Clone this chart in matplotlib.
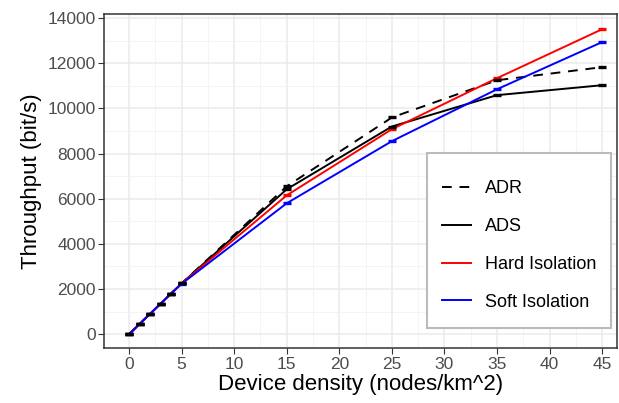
import numpy as np
import matplotlib.pyplot as plt
from matplotlib.patches import Rectangle
from matplotlib.ticker import MultipleLocator

density = [0, 1, 2, 3, 4, 5, 15, 25, 35, 45]
adr = [0, 450, 900, 1350, 1800, 2250, 6550, 9600, 11250, 11830]
ads = [0, 450, 900, 1350, 1800, 2250, 6420, 9200, 10590, 11030]
hard = [0, 450, 900, 1350, 1800, 2250, 6150, 9080, 11340, 13510]
soft = [0, 450, 900, 1350, 1800, 2230, 5800, 8550, 10850, 12940]

plt.rcParams['font.family'] = ['Liberation Sans', 'DejaVu Sans']

fig = plt.figure(figsize=(6.19, 4.03), dpi=100)
ax = fig.add_axes([0.168, 0.136, 0.829, 0.829])

series = [(adr, 'black', (0, (5, 4)), 'ADR', 4),
          (ads, 'black', '-', 'ADS', 4),
          (hard, 'red', '-', 'Hard Isolation', 3),
          (soft, 'blue', '-', 'Soft Isolation', 3)]
handles = []
for vals, col, ls, lab, z in series:
    h, = ax.plot(density, vals, color=col, ls=ls, lw=1.4, label=lab, zorder=2)
    handles.append(h)
    # little caps at each measured point
    ax.plot(density, vals, ls='none', marker='_', ms=6, mew=2.4, color=col, zorder=z)

ax.set_xlim(-2.38, 46.43)
ax.set_ylim(-620, 14180)
ax.xaxis.set_major_locator(MultipleLocator(5))
ax.xaxis.set_minor_locator(MultipleLocator(2.5))
ax.yaxis.set_major_locator(MultipleLocator(2000))
ax.yaxis.set_minor_locator(MultipleLocator(1000))
ax.grid(which='major', color='#EBEBEB', lw=1.1)
ax.grid(which='minor', color='#F2F2F2', lw=0.6)
ax.set_axisbelow(True)
ax.tick_params(which='minor', length=0)
ax.tick_params(which='major', length=4, color='#333333', width=0.8, pad=2,
               labelsize=12.5, labelcolor='#4D4D4D')
for s in ax.spines.values():
    s.set_color('#333333')
    s.set_linewidth(1.1)

ax.set_xlabel('Device density (nodes/km^2)', fontsize=16, labelpad=2)
ax.set_ylabel('Throughput (bit/s)', fontsize=16, labelpad=4)

# legend box drawn by hand (ggplot leaves an empty title row on top)
ax.add_patch(Rectangle((0.630, 0.060), 0.358, 0.524, transform=ax.transAxes,
                       facecolor='white', edgecolor='#BBBBBB', lw=1.5, zorder=5))
leg = ax.legend(handles=handles, loc='lower left', bbox_to_anchor=(0.659, 0.112),
                fontsize=13, frameon=False, handlelength=1.6, labelspacing=1.15,
                borderpad=0, handletextpad=0.75, borderaxespad=0)
leg.set_zorder(6)

fig.savefig('out.png', dpi=100)
